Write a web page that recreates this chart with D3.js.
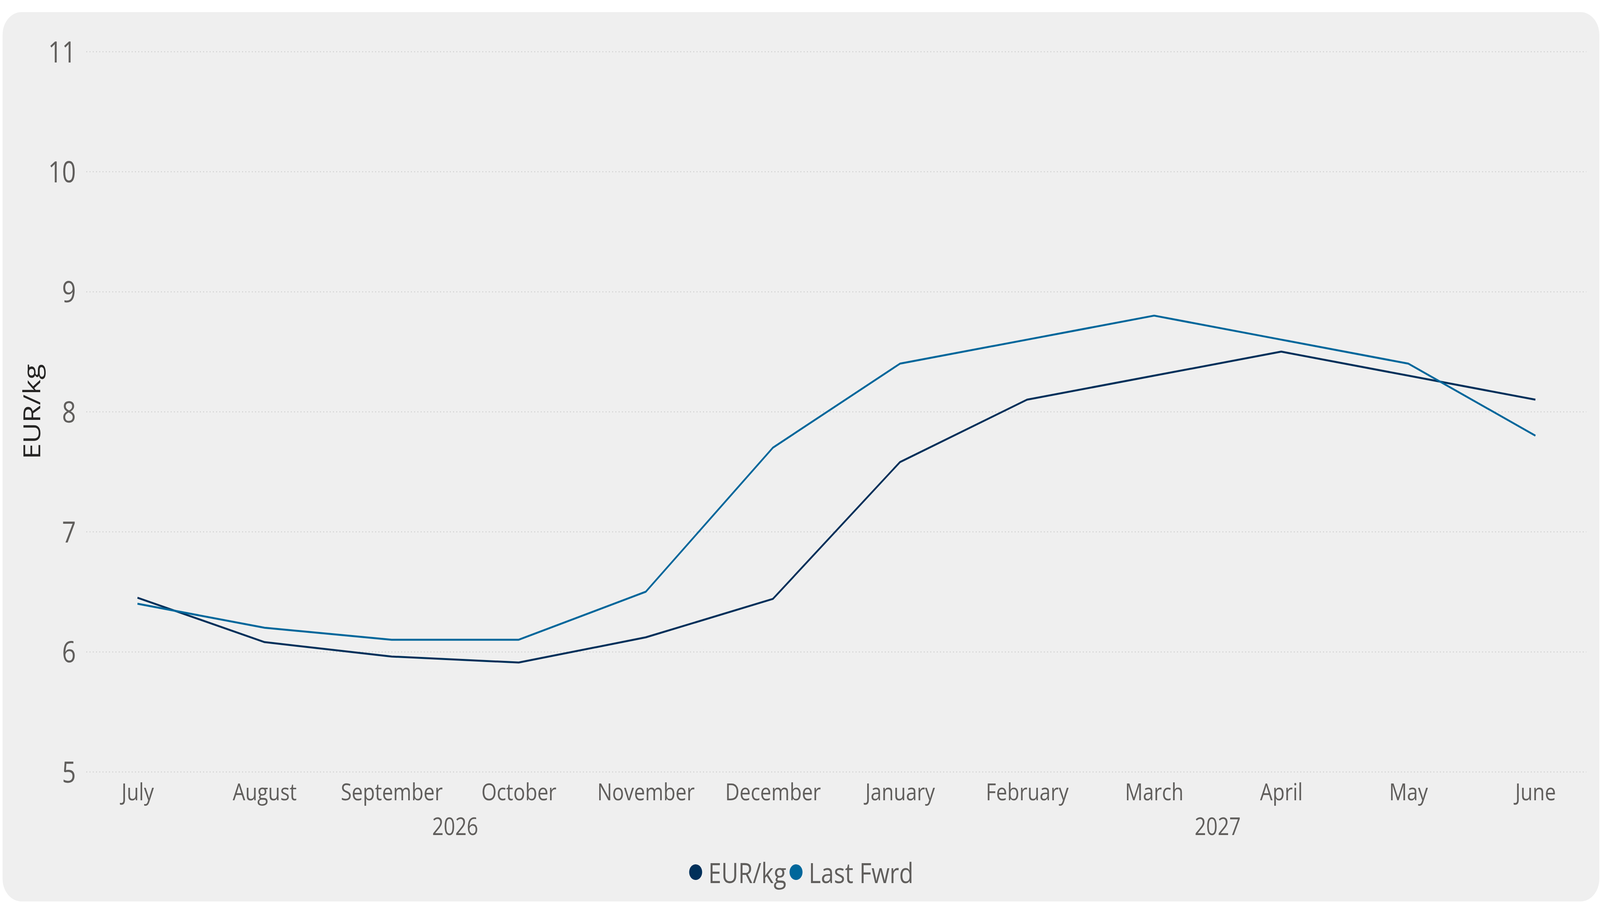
<!DOCTYPE html>
<html>
<head>
<meta charset="utf-8">
<script src="https://cdn.jsdelivr.net/npm/d3@7"></script>
<style>
  html, body { margin: 0; padding: 0; background: #ffffff; overflow: hidden; }
  svg { display: block; width: 100vw; height: 100vh; }
  text { font-family: "Segoe UI", "Open Sans", sans-serif; }
</style>
</head>
<body>
<!-- the chart is laid out on the 4929x2312 frame and stretched to the window -->
<svg id="chart" viewBox="0 0 4929 2312" preserveAspectRatio="none"></svg>
<script>
// data
const months = ['July', 'August', 'September', 'October', 'November', 'December',
  'January', 'February', 'March', 'April', 'May', 'June'];
const years = [
  {label: '2026', first: 'July', last: 'December'},
  {label: '2027', first: 'January', last: 'June'},
];
const eurKg = [6.45, 6.08, 5.96, 5.91, 6.12, 6.44, 7.58, 8.10, 8.30, 8.50, 8.30, 8.10];
const lastFwrd = [6.40, 6.20, 6.10, 6.10, 6.50, 7.70, 8.40, 8.60, 8.80, 8.60, 8.40, 7.80];
const yTicks = [5, 6, 7, 8, 9, 10, 11];

const seriesList = [
  {name: 'EUR/kg', values: eurKg, color: '#01305a'},
  {name: 'Last Fwrd', values: lastFwrd, color: '#00679b'},
];

const W = 4929;
const H = 2312;
const plot = {left: 266, right: 4887, top: 132, bottom: 1976};
const textColor = '#605e5c';

const svg = d3.select('#chart');

// card background
svg.append('rect')
    .attr('x', 8)
    .attr('y', 31)
    .attr('width', W - 8 - 2)
    .attr('height', H - 31 - 4)
    .attr('rx', 58)
    .attr('ry', 58)
    .attr('fill', '#efefef');

const x = d3.scalePoint()
    .domain(months)
    .range([423.5, 4730]);

const y = d3.scaleLinear()
    .domain([5, 11])
    .range([plot.bottom, plot.top]);

// y axis with dotted gridlines
const yAxis = svg.append('g')
    .attr('transform', `translate(${plot.left},0)`)
    .call(d3.axisLeft(y)
        .tickValues(yTicks)
        .tickSize(-(plot.right - plot.left))
        .tickPadding(32)
        .tickFormat(d3.format('d')));
yAxis.select('.domain').remove();
yAxis.selectAll('.tick line')
    .attr('stroke', '#c9c9c9')
    .attr('stroke-width', 2.5)
    .attr('stroke-dasharray', '2.5,7.5');
yAxis.selectAll('.tick text')
    .attr('fill', textColor)
    .attr('font-size', 75)
    .attr('dy', '0.36em');

// x axis (months)
const xAxis = svg.append('g')
    .attr('transform', `translate(0,${plot.bottom})`)
    .call(d3.axisBottom(x).tickSize(0).tickPadding(0));
xAxis.select('.domain').remove();
xAxis.selectAll('.tick text')
    .attr('fill', textColor)
    .attr('font-size', 61)
    .attr('y', 73)
    .attr('dy', 0);

// year labels under the months
svg.append('g').selectAll('text')
    .data(years)
    .join('text')
    .attr('x', (d) => (x(d.first) + x(d.last)) / 2)
    .attr('y', 2138)
    .attr('text-anchor', 'middle')
    .attr('fill', textColor)
    .attr('font-size', 62)
    .text((d) => d.label);

// y axis title
svg.append('text')
    .attr('transform', `translate(124,${(plot.top + plot.bottom) / 2}) rotate(-90)`)
    .attr('text-anchor', 'middle')
    .attr('fill', '#252423')
    .attr('font-size', 73)
    .text('EUR/kg');

// lines
const line = d3.line()
    .x((d, i) => x(months[i]))
    .y((d) => y(d));

svg.append('g').selectAll('path')
    .data(seriesList)
    .join('path')
    .attr('d', (d) => line(d.values))
    .attr('fill', 'none')
    .attr('stroke', (d) => d.color)
    .attr('stroke-width', 5)
    .attr('stroke-linejoin', 'round');

// legend, centred on the card
const legend = svg.append('g');
const items = legend.selectAll('g')
    .data(seriesList)
    .join('g');
items.append('circle')
    .attr('r', 20)
    .attr('cy', -28)
    .attr('fill', (d) => d.color);
items.append('text')
    .attr('x', 39)
    .attr('fill', textColor)
    .attr('font-size', 72)
    .text((d) => d.name);

let offset = 0;
items.each(function() {
  const w = this.getBBox().width;
  d3.select(this).attr('transform', `translate(${offset + 20},0)`);
  offset += w + 10;
});
const legendWidth = offset - 10;
legend.attr('transform', `translate(${(8 + W) / 2 - legendWidth / 2},2261)`);
</script>
</body>
</html>
